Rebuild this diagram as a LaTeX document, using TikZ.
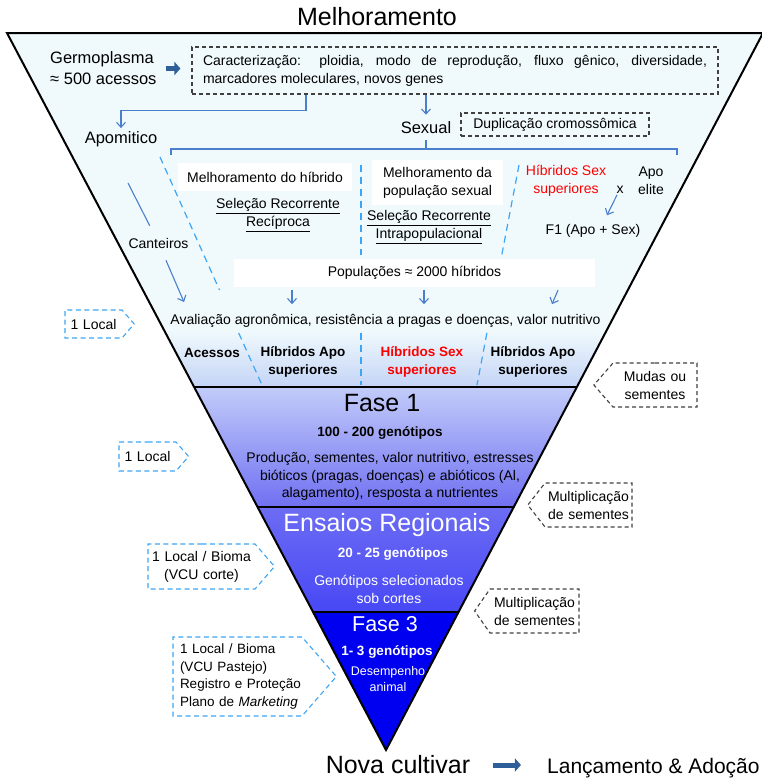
\documentclass[tikz,border=0pt]{standalone}
\usepackage{fontspec}
\setmainfont{Liberation Sans}
\usepackage{tikz}
\usetikzlibrary{arrows.meta}
\usetikzlibrary{shapes.symbols}
\usetikzlibrary{positioning}
\definecolor{cblue}{HTML}{4A7FCB}
\definecolor{dblue}{HTML}{3DA5F4}
\definecolor{dgray}{HTML}{404040}
\definecolor{ablue}{HTML}{2F5F98}
\definecolor{topcol}{HTML}{F0FAFD}
\definecolor{toplow}{HTML}{C4D4F6}
\definecolor{fonetop}{HTML}{C2CCF9}
\definecolor{fonelow}{HTML}{7070F2}
\definecolor{ertop}{HTML}{6C6CF4}
\definecolor{erlow}{HTML}{4848F5}
\definecolor{fthree}{HTML}{0000F0}
\tikzset{arr/.style = {-{Straight Barb[length=5pt, width=9pt]}}}
\tikzset{blockarr/.style = {ablue, line width=5pt, -{Triangle[length=6pt, width=13pt]}}}
\tikzset{conn/.style = {cblue, line width=1.1pt}}
\tikzset{guide/.style = {dblue, line width=1.2pt, dash pattern=on 7pt off 5pt}}
\tikzset{txt/.style = {font=\fontsize{14}{18}\selectfont, align=center, inner sep=1pt}}
\tikzset{boldtxt/.style = {txt, font=\fontsize{13.5}{18}\selectfont\bfseries}}
\tikzset{bigtxt/.style = {font=\fontsize{25}{30}\selectfont, inner sep=0pt}}
\tikzset{subtxt/.style = {txt, font=\fontsize{16.5}{21}\selectfont}}
\tikzset{whitebox/.style = {txt, fill=white}}
\tikzset{dashbox/.style = {txt, draw=dgray, line width=1.1pt, dash pattern=on 4pt off 3pt}}
\tikzset{lcall/.style = {txt, signal, signal to=east, signal pointer angle=98, draw=dblue,
                         line width=1.1pt, dash pattern=on 5pt off 3.5pt, inner xsep=0pt, inner ysep=0pt}}
\tikzset{rcall/.style = {txt, signal, signal to=west, signal pointer angle=98, draw=dgray,
                         line width=1.1pt, dash pattern=on 4pt off 3pt, inner xsep=0pt, inner ysep=0pt}}

\begin{document}
\begin{tikzpicture}[x=1pt, y=-1pt]
  \useasboundingbox (0,0) rectangle (761,779);

  % funnel
  \coordinate (tl) at (7,33);
  \coordinate (tr) at (763,33);
  \coordinate (apex) at (386,750);
  \begin{scope}
    \clip (tl) -- (tr) -- (apex) -- cycle;
    \fill [topcol] (0,33) rectangle (770,330);
    \shade [top color=topcol, bottom color=toplow] (0,330) rectangle (770,387);
    \shade [top color=fonetop, bottom color=fonelow] (0,387) rectangle (770,507);
    \shade [top color=ertop, bottom color=erlow] (0,507) rectangle (770,612);
    \fill [fthree] (0,612) rectangle (770,750);
    \foreach \y in {387,507,612} {
      \draw [line width=1.5pt] (0,\y) -- (770,\y);
    }
  \end{scope}
  \draw [line width=2pt] (tl) -- (tr) -- (apex) -- cycle;

  \node [bigtxt] (title) at (377,17) {Melhoramento};

  % germoplasma
  \node [subtxt, align=left, anchor=west] (germ) at (49,68.5) {Germoplasma\\≈ 500 acessos};
  \node [dashbox, text width=504pt, align=justify, inner xsep=11pt, minimum height=47pt] (carac) at (455,70.5)
    {Caracterização: ploidia, modo de reprodução, fluxo gênico, diversidade,\linebreak marcadores moleculares, novos genes};
  \draw [blockarr, shorten <=8pt, shorten >=11pt] (germ.east) -- (germ.east -| carac.west);

  \node [subtxt] (apo) at (121,139) {Apomitico};
  \node [subtxt] (sexual) at (426,128) {Sexual};
  \node [dashbox, minimum width=188pt, minimum height=23pt] (dup) at (555,124.5) {Duplicação cromossômica};
  \draw [conn, arr] ([xshift=-149pt]carac.south) -- ++(0,16) -| ([yshift=2pt]apo.north);
  \draw [conn, arr] (carac.south -| sexual.north) -- ([yshift=6pt]sexual.north);

  % bracket
  \coordinate (brl) at (171,149);
  \coordinate (brr) at (677,149);
  \draw [conn, shorten <=5pt] (sexual.south) -- (sexual.south |- brl);
  \draw [conn] ([yshift=-6pt]brl) -- (brl) -- (brr) -- ([yshift=-6pt]brr);

  % guides
  \draw [guide] (160,157) -- (219.5,290);
  \draw [guide] (238.7,333) -- (262,385);
  \draw [guide] (361,165) -- (361,255);
  \draw [guide] (361,333) -- (361,385);
  \draw [guide] (519,165) -- (501.2,258);
  \draw [guide] (486.9,333) -- (477,385);

  % breeding lines
  \node [whitebox, minimum width=174pt, minimum height=28pt] (mhib) at (265,177) {Melhoramento do híbrido};
  \node [txt] (srr) at (278,215) {\underline{Seleção Recorrente}\\\underline{Recíproca}};
  \node [whitebox, minimum width=131pt, minimum height=45pt] (mpop) at (437.5,182.5) {Melhoramento da\\população sexual};
  \node [txt] (sri) at (429,227) {\underline{Seleção Recorrente}\\\underline{Intrapopulacional}};
  \node [txt, text=red] (hsex) at (566,181) {Híbridos Sex\\superiores};
  \node [txt] (cross) at (620,190) {x};
  \node [txt] (apoel) at (651,181) {Apo\\elite};
  \node [txt] (fone) at (593,231) {F1 (Apo + Sex)};
  \draw [conn, arr] ([xshift=-3pt]cross.south) -- ([xshift=14pt, yshift=8pt]fone.north);

  \node [whitebox, minimum width=361pt, minimum height=28pt] (pop) at (414.5,273) {Populações ≈ 2000 híbridos};
  \foreach \a/\b in {-122.5/-122.5, 9.5/9.5, 143.5/137.5} {
    \draw [conn, arr] ([xshift=\a pt, yshift=-3pt]pop.south) -- ([xshift=\b pt, yshift=-17pt]pop.south);
  }

  % canteiros
  \coordinate (canta) at (128,183);
  \coordinate (cantb) at (184,302);
  \node [txt, inner ysep=12pt, inner xsep=2pt] (cant) at (158.5,243) {Canteiros};
  \draw [conn] (canta) -- (cant);
  \draw [conn, arr] (cant) -- (cantb);

  \node [txt] (aval) at (385.5,321) {Avaliação agronômica, resistência a pragas e doenças, valor nutritivo};
  \node [boldtxt] (acc) at (212,353) {Acessos};
  \node [boldtxt] (hapoa) at (303,362) {Híbridos Apo\\superiores};
  \node [boldtxt, text=red] (hsexb) at (422,362) {Híbridos Sex\\superiores};
  \node [boldtxt] (hapob) at (533,362) {Híbridos Apo\\superiores};

  % phases
  \node [bigtxt] (fase1) at (382,403) {Fase 1};
  \node [boldtxt] (gone) at (380,433) {100 - 200 genótipos};
  \node [txt, font=\fontsize{14}{17.5}\selectfont] (done) at (390,476.5)
    {Produção, sementes, valor nutritivo, estresses\\bióticos (pragas, doenças) e abióticos (Al,\\alagamento), resposta a nutrientes};
  \node [bigtxt, text=white] (er) at (387,525) {Ensaios Regionais};
  \node [boldtxt, text=white] (gtwo) at (393,554) {20 - 25 genótipos};
  \node [txt, text=white] (dtwo) at (389,589.5) {Genótipos selecionados\\sob cortes};
  \node [bigtxt, font=\fontsize{21.5}{26}\selectfont, text=white] (fase3) at (385,624) {Fase 3};
  \node [boldtxt, text=white] (gthree) at (387,652) {1- 3 genótipos};
  \node [txt, font=\fontsize{12.5}{16}\selectfont, text=white] (dthree) at (388,679) {Desempenho\\animal};

  % release
  \node [bigtxt] (nova) at (398,765) {Nova cultivar};
  \node [bigtxt, font=\fontsize{21}{26}\selectfont, anchor=base west] (lanc) at ([xshift=76.5pt]nova.base east) {Lançamento \& Adoção};
  \draw [blockarr, shorten <=23pt, shorten >=26pt] (nova.east) -- (nova.east -| lanc.west);

  % sites
  \node [lcall, text width=57pt, minimum height=28pt] (lcone) at (93.5,324) {1 Local};
  \node [lcall, text width=57pt, minimum height=29pt] (lctwo) at (147.5,456.5) {1 Local};
  \node [lcall, text width=107pt, minimum height=45pt] (lcthree) at (201.5,566.5) {1 Local / Bioma\\(VCU corte)};
  \node [lcall, font=\fontsize{13.5}{17.5}\selectfont, align=left, text width=129pt, minimum height=79pt] (lcfour) at (237.5,676.5)
    {\hspace*{7pt}\mbox{1 Local / Bioma}\\\hspace*{7pt}\mbox{(VCU Pastejo)}\\\hspace*{7pt}\mbox{Registro e Proteção}\\\hspace*{7pt}\mbox{Plano de \textit{Marketing}}};

  % seeds
  \node [rcall, text width=84pt, minimum height=44pt] (rcone) at (655,385) {Mudas ou\\sementes};
  \node [rcall, text width=87pt, minimum height=44pt, signal pointer angle=104] (rctwo) at (588.5,505) {Multiplicação\\de sementes};
  \node [rcall, text width=89pt, minimum height=44pt, signal pointer angle=110] (rcthree) at (534.5,611) {Multiplicação\\de sementes};
\end{tikzpicture}
\end{document}
